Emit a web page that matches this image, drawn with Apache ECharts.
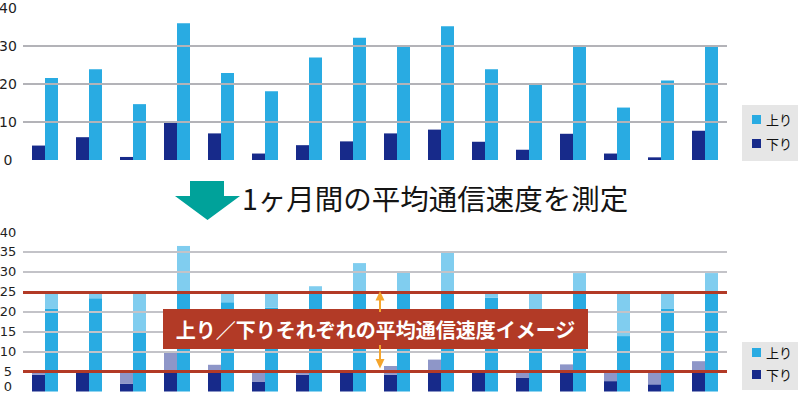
<!DOCTYPE html>
<html>
<head>
<meta charset="utf-8">
<script src="https://cdn.jsdelivr.net/npm/echarts@6/dist/echarts.min.js"></script>
<style>
html,body{margin:0;padding:0;background:#fff;}
#chart{width:798px;height:394px;}
</style>
</head>
<body>
<div id="chart"></div>
<script>
// ---- data ----
const categories = ['1','2','3','4','5','6','7','8','9','10','11','12','13','14','15','16'];
const seriesNames = ['上り', '下り'];
// top chart: measured speeds
const topUp   = [21.6, 23.9, 14.7, 36.0, 22.9, 18.1, 27.0, 32.2, 30.0, 35.2, 23.9, 20.1, 30.0, 13.8, 20.9, 30.0];
const topDown = [3.8, 6.0, 0.8, 10.0, 7.0, 1.7, 3.9, 4.9, 7.0, 8.0, 4.8, 2.7, 6.9, 1.7, 0.7, 7.7];
// bottom chart: solid part and top of pale part
const botUpSolid   = [20.7, 23.4, 14.8, 25, 22.4, 21.0, 25, 25, 25, 25, 23.5, 20.5, 25, 13.9, 20.7, 25];
const botUpTotal   = [25, 25, 25, 36.5, 25, 25, 26.4, 32.2, 29.8, 34.9, 25, 25, 29.7, 25, 25, 29.7];
const botDownSolid = [4.2, 5.3, 1.9, 5, 5, 2.5, 4.2, 5, 4.2, 5, 5, 3.5, 5, 2.6, 1.8, 5];
const botDownTotal = [5, 5.3, 5, 10.0, 6.7, 5, 5, 5, 6.4, 8.0, 5, 5, 6.8, 5, 5, 7.6];
const topTicks = [10, 20, 30];
const botTicks = [10, 15, 20, 30, 35];
const targetLines = [5, 25];
const titleText = '1ヶ月間の平均通信速度を測定';
const boxText = '上り／下りそれぞれの平均通信速度イメージ';

// ---- styles ----
const C_UP = '#29abe2', C_UP_PALE = '#80cdef';
const C_DN = '#172a8a', C_DN_PALE = '#8e96c8';
const C_GRID = '#b3b3b8', C_GRID2 = '#c3c3c8';
const C_RED = '#b23a26';
const C_ORANGE = '#f5a52c';
const FONT = '"Noto Sans CJK JP", "Noto Sans", sans-serif';
const NUM_FONT = '"DejaVu Sans", sans-serif';

const upPale = botUpTotal.map((t, i) => +(t - botUpSolid[i]).toFixed(2));
const dnPale = botDownTotal.map((t, i) => +(t - botDownSolid[i]).toFixed(2));

function xAx(idx) {
  return { gridIndex: idx, type: 'category', data: categories,
    axisLine: {show: false}, axisTick: {show: false}, axisLabel: {show: false}, splitLine: {show: false} };
}
function yAx(idx, interval, fs, liftZero) {
  const lbl = {margin: 15, align: 'center', color: '#1e1e1e', fontSize: fs, fontFamily: NUM_FONT};
  if (liftZero) {
    lbl.formatter = v => (v === 0 ? '{z|0}' : String(v));
    lbl.rich = {z: {padding: [0, 0, 11, 0], fontSize: fs, fontFamily: NUM_FONT, color: '#1e1e1e'}};
  }
  return { gridIndex: idx, type: 'value', min: 0, max: 40, interval: interval,
    axisLine: {show: false}, axisTick: {show: false}, splitLine: {show: false}, axisLabel: lbl };
}
function gridLines(xi, ticks, color, width, z) {
  return { type: 'line', xAxisIndex: xi, yAxisIndex: xi, data: [], z: z, silent: true,
    markLine: { silent: true, symbol: 'none', animation: false, label: {show: false},
      lineStyle: {color: color, width: width, type: 'solid'},
      data: ticks.map(v => ({yAxis: v})) } };
}
function legend(top, pad, gap) {
  return { data: seriesNames, left: 742, top: top, orient: 'vertical', selectedMode: false,
    backgroundColor: '#e6e6e6', padding: pad, itemGap: gap, itemWidth: 9, itemHeight: 9, icon: 'rect',
    textStyle: {fontSize: 13, color: '#111', fontFamily: FONT} };
}

const bar = (name, xi, data, color, extra) => Object.assign({
  name: name, type: 'bar', xAxisIndex: xi, yAxisIndex: xi, data: data,
  barWidth: 13, barGap: '0%', itemStyle: {color: color}, z: 3, animation: false
}, extra || {});

const option = {
  backgroundColor: '#fff',
  animation: false,
  grid: [
    {left: 23, top: 8, width: 704, height: 152, containLabel: false, outerBoundsMode: 'none'},
    {left: 23, top: 232, width: 704, height: 159.5, containLabel: false, outerBoundsMode: 'none'}
  ],
  xAxis: [xAx(0), xAx(1)],
  yAxis: [yAx(0, 10, 14, false), yAx(1, 5, 13, true)],
  legend: [legend(105, [8, 14, 11, 10], 11), legend(342, [4, 14, 9, 10], 9)],
  series: [
    gridLines(0, topTicks, C_GRID, 2, 1),
    bar('下り', 0, topDown, C_DN),
    bar('上り', 0, topUp, C_UP),
    gridLines(1, botTicks, C_GRID2, 2, 1),
    bar('下り', 1, botDownSolid, C_DN, {stack: 'down'}),
    bar('下り（差）', 1, dnPale, C_DN_PALE, {stack: 'down'}),
    bar('上り', 1, botUpSolid, C_UP, {stack: 'up'}),
    bar('上り（差）', 1, upPale, C_UP_PALE, {stack: 'up'}),
    gridLines(1, targetLines, C_RED, 3, 10)
  ],
  graphic: [
    {type: 'polygon', z: 50, shape: {points: [[190,181],[224,181],[224,196],[240,196],[207.5,220],[175,196],[190,196]]},
      style: {fill: '#00a29a'}},
    {type: 'text', z: 50, x: 242, y: 197,
      style: {text: titleText, fill: '#141414', fontSize: 28.5, fontFamily: FONT,
        verticalAlign: 'middle', textVerticalAlign: 'middle'}},
    {type: 'rect', z: 100, shape: {x: 163, y: 309, width: 425, height: 40}, style: {fill: C_RED}},
    {type: 'text', z: 101, x: 375.5, y: 329.5,
      style: {text: boxText, fill: '#fff', fontSize: 20, fontWeight: 'bold', fontFamily: FONT,
        align: 'center', textAlign: 'center', verticalAlign: 'middle', textVerticalAlign: 'middle'}},
    {type: 'line', z: 100, shape: {x1: 380, y1: 299, x2: 380, y2: 312}, style: {stroke: C_ORANGE, lineWidth: 2}},
    {type: 'polygon', z: 100, shape: {points: [[380,291],[375.5,300.5],[384.5,300.5]]}, style: {fill: C_ORANGE}},
    {type: 'line', z: 100, shape: {x1: 380, y1: 345, x2: 380, y2: 360}, style: {stroke: C_ORANGE, lineWidth: 2}},
    {type: 'polygon', z: 100, shape: {points: [[375.5,359],[384.5,359],[380,368.5]]}, style: {fill: C_ORANGE}}
  ]
};

const chart = echarts.init(document.getElementById('chart'), null, {renderer: 'svg', width: 798, height: 394});
chart.setOption(option);
</script>
</body>
</html>
